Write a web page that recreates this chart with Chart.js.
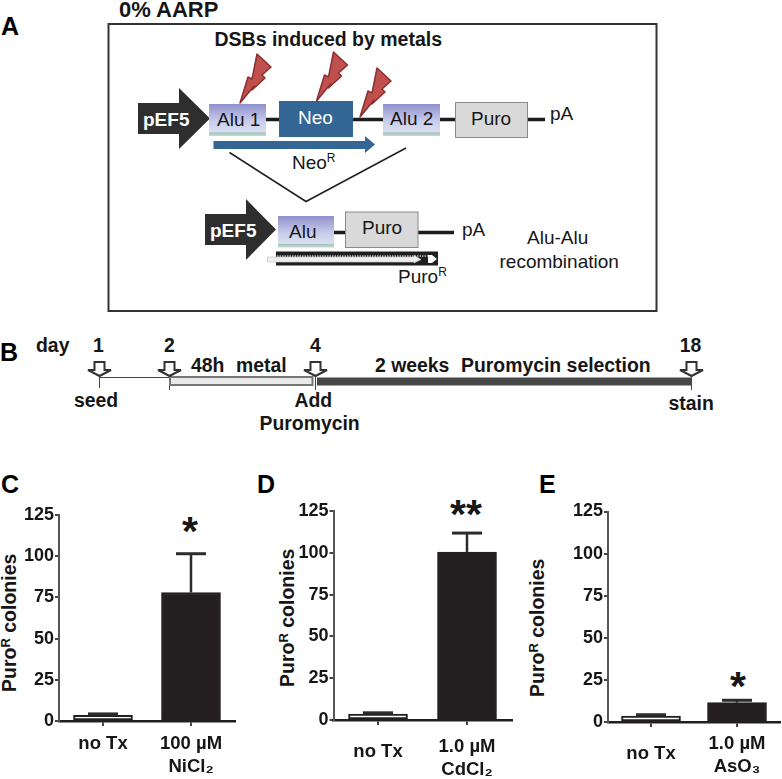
<!DOCTYPE html>
<html>
<head>
<meta charset="utf-8">
<title>Metal induced Alu recombination</title>
<script src="https://cdn.jsdelivr.net/npm/chart.js@4"></script>
<style>
    html, body { margin: 0; padding: 0; background: #fff; }
    #page { position: relative; width: 782px; height: 779px; overflow: hidden; }
    #page svg { position: absolute; left: 0; top: 0; }
    #page canvas { position: absolute; }
    svg text { font-family: "Liberation Sans", Arial, sans-serif; fill: #161616; }
    .b { font-weight: bold; }
    .letter { font-weight: bold; font-size: 25px; fill: #000; }
    .sch { font-size: 19px; }
    .time { font-weight: bold; font-size: 19.4px; }
    .ytitle { font-weight: bold; font-size: 19.5px; }
    .star { font-weight: bold; font-size: 41px; text-anchor: middle; }
    .white { fill: #fff !important; font-weight: bold; font-size: 19px; }
</style>
</head>
<body>
<div id="page">
<svg width="782" height="779" xmlns="http://www.w3.org/2000/svg">
    <defs>
        <linearGradient id="alu" x1="0" y1="0" x2="0" y2="1">
            <stop offset="0" stop-color="#8f90cc"/>
            <stop offset="0.55" stop-color="#c9cdea"/>
            <stop offset="0.87" stop-color="#d8def2"/>
            <stop offset="0.9" stop-color="#a6c4bc"/>
            <stop offset="1" stop-color="#c8dad6"/>
        </linearGradient>
        <polygon id="bolt" points="0,0 8,-26 12,-24 17,-49 31,-36 22,-28 25,-25 12,-13 14,-17" fill="#c0504d" stroke="#8a3030" stroke-width="1.5" stroke-linejoin="round"/>
    </defs>

    <!-- Panel A -->
    <text class="letter" x="1" y="35">A</text>
    <text class="b" x="119" y="17" font-size="22">0% AARP</text>
    <rect x="108.5" y="24" width="548" height="287" fill="none" stroke="#333" stroke-width="2"/>
    <text class="b" x="214.5" y="46" font-size="19.5">DSBs induced by metals</text>

    <g stroke="#1c1c1c" stroke-width="3.5">
        <line x1="262" y1="119.5" x2="545" y2="119.5"/>
        <line x1="330" y1="232.5" x2="454" y2="232.5"/>
    </g>

    <polygon points="138,103 179,103 179,88 210,118.5 179,149 179,134 138,134" fill="#2e2e2e"/>
    <text class="white" x="143" y="126">pEF5</text>
    <rect x="209" y="104" width="57" height="32" fill="url(#alu)"/>
    <text class="sch" x="217" y="126">Alu 1</text>
    <rect x="279" y="101" width="74" height="36" fill="#336695"/>
    <text class="sch" x="298" y="124" style="fill:#fff">Neo</text>
    <rect x="383" y="104" width="57" height="32" fill="url(#alu)"/>
    <text class="sch" x="390" y="125">Alu 2</text>
    <rect x="455.5" y="102.5" width="72" height="35" fill="#d9d9d9" stroke="#8a8a8a"/>
    <text class="sch" x="471" y="125">Puro</text>
    <text class="sch" x="550" y="120">pA</text>

    <use href="#bolt" x="240" y="103"/>
    <use href="#bolt" x="316.5" y="101"/>
    <use href="#bolt" x="360" y="117"/>

    <polygon points="213.5,141 365,141 365,136 375,144.5 365,153 365,149 213.5,149" fill="#336695"/>
    <text class="sch" x="292" y="169" font-size="18">Neo<tspan font-size="12" dy="-7">R</tspan></text>
    <polyline points="229.5,152.5 306,201.5 406,148" fill="none" stroke="#222" stroke-width="1.6"/>

    <polygon points="205,214 246,214 246,199 276,229.5 246,260 246,245 205,245" fill="#2e2e2e"/>
    <text class="white" x="210" y="237">pEF5</text>
    <rect x="278" y="216" width="56" height="31.5" fill="url(#alu)"/>
    <text class="sch" x="289" y="238">Alu</text>
    <rect x="345.5" y="212" width="72.5" height="35.5" fill="#d9d9d9" stroke="#8a8a8a"/>
    <text class="sch" x="362" y="234">Puro</text>
    <text class="sch" x="462" y="236">pA</text>

    <rect x="276" y="251.5" width="162" height="14" fill="#1f1f1f"/>
    <polygon points="267.5,257 414,257 414,255.5 421,259.5 414,263 414,262 267.5,262" fill="#eeeeee" stroke="#c4c4c4" stroke-width="0.7"/>
    <line x1="277" y1="256" x2="432" y2="256" stroke="#fff" stroke-width="1.2" stroke-dasharray="1.5 1"/>
    <polygon points="428,255 432,255 437,259 432,263 428,263" fill="#fff"/>
    <text class="sch" x="398" y="283" font-size="18">Puro<tspan font-size="12" dy="-7">R</tspan></text>
    <text class="sch" x="527" y="244" font-size="18">Alu-Alu</text>
    <text class="sch" x="499.5" y="268" font-size="18">recombination</text>

    <!-- Panel B -->
    <text class="letter" x="0" y="361">B</text>
    <text class="time" x="36" y="352">day</text>
    <text class="time" x="98.5" y="352" text-anchor="middle">1</text>
    <text class="time" x="169.5" y="352" text-anchor="middle">2</text>
    <text class="time" x="315.5" y="352" text-anchor="middle">4</text>
    <text class="time" x="690.5" y="352" text-anchor="middle">18</text>
    <text class="time" x="191" y="372">48h</text>
    <text class="time" x="236" y="372">metal</text>
    <text class="time" x="375" y="372">2 weeks</text>
    <text class="time" x="461" y="372">Puromycin selection</text>
    <text class="time" x="74" y="407">seed</text>
    <text class="time" x="294.5" y="407">Add</text>
    <text class="time" x="259.5" y="430">Puromycin</text>
    <text class="time" x="668.5" y="410">stain</text>

    <g stroke="#444" stroke-width="1">
        <line x1="99.5" y1="377.5" x2="169.5" y2="377.5"/>
        <line x1="99.5" y1="377" x2="99.5" y2="388"/>
        <line x1="169.5" y1="377" x2="169.5" y2="390"/>
        <line x1="315.5" y1="377" x2="315.5" y2="390"/>
        <line x1="691.5" y1="377" x2="691.5" y2="390"/>
    </g>
    <rect x="170" y="377" width="142.5" height="8" fill="#e9e9e9" stroke="#777" stroke-width="2"/>
    <rect x="317" y="377.5" width="374.5" height="8" fill="#474747"/>
    <g fill="#fff" stroke="#333" stroke-width="2">
        <polygon points="94.5,362 104.5,362 104.5,370 111,370 99.5,376 88,370 94.5,370"/>
        <polygon points="164.5,362 174.5,362 174.5,370 181,370 169.5,376 158,370 164.5,370"/>
        <polygon points="310.5,362 320.5,362 320.5,370 327,370 315.5,376 304,370 310.5,370"/>
        <polygon points="686.5,362 696.5,362 696.5,370 703,370 691.5,376 680,370 686.5,370"/>
    </g>

    <!-- Panels C, D, E: letters, axis titles and significance marks -->
    <text class="letter" x="1" y="493">C</text>
    <text class="letter" x="257" y="493">D</text>
    <text class="letter" x="539" y="493">E</text>

    <text class="ytitle" transform="translate(15.5 692) rotate(-90)">Puro<tspan font-size="13" dy="-6">R</tspan><tspan dy="6"> colonies</tspan></text>
    <text class="ytitle" transform="translate(294 687) rotate(-90)">Puro<tspan font-size="13" dy="-6">R</tspan><tspan dy="6"> colonies</tspan></text>
    <text class="ytitle" transform="translate(544 697) rotate(-90)">Puro<tspan font-size="13" dy="-6">R</tspan><tspan dy="6"> colonies</tspan></text>

    <text class="star" x="190" y="545">*</text>
    <text class="star" x="466" y="528">**</text>
    <text class="star" x="738" y="700">*</text>
</svg>
<canvas id="chartC"></canvas>
<canvas id="chartD"></canvas>
<canvas id="chartE"></canvas>
</div>

<script>
// Datos
const yTicks = [0, 25, 50, 75, 100, 125];

const labelsC = ['no Tx', ['100 µM', 'NiCl₂']];
const valuesC = [3.5, 78];
const errorTopC = [4.3, 101.5];

const labelsD = ['no Tx', ['1.0 µM', 'CdCl₂']];
const valuesD = [3.5, 100.5];
const errorTopD = [4.3, 111.8];

const labelsE = ['no Tx', ['1.0 µM', 'AsO₃']];
const valuesE = [3.5, 11.5];
const errorTopE = [4.3, 12.9];

const INK = '#231f20';
const AXIS = '#444444';
const FONT = '"Liberation Sans", Arial, sans-serif';

// Barras de error
const errorBarsPlugin = {
    id: 'errorBars',
    afterDatasetsDraw(chart, args, opts) {
        const { ctx, scales: { x, y } } = chart;
        ctx.save();
        ctx.strokeStyle = '#2b2b2b';
        ctx.lineCap = 'butt';
        opts.tops.forEach((top, i) => {
            const px = x.getPixelForValue(i);
            const yBar = y.getPixelForValue(opts.values[i]);
            const yTop = y.getPixelForValue(top);
            ctx.lineWidth = 2.5;
            ctx.beginPath();
            ctx.moveTo(px, yBar);
            ctx.lineTo(px, yTop);
            ctx.stroke();
            ctx.lineWidth = 3;
            ctx.beginPath();
            ctx.moveTo(px - 15, yTop);
            ctx.lineTo(px + 15, yTop);
            ctx.stroke();
        });
        ctx.restore();
    }
};

function drawPanel(id, labels, values, errorTop, box) {
    const canvas = document.getElementById(id);
    canvas.width = box.width;
    canvas.height = box.height;
    canvas.style.left = box.left + 'px';
    canvas.style.top = box.top + 'px';

    return new Chart(canvas.getContext('2d'), {
        type: 'bar',
        data: {
            labels: labels,
            datasets: [{
                data: values,
                backgroundColor: ['#ffffff', INK],
                borderColor: INK,
                borderWidth: 2,
                borderSkipped: false,
                barThickness: 59
            }]
        },
        options: {
            responsive: false,
            animation: false,
            devicePixelRatio: 1,
            layout: { padding: { top: box.padTop, right: box.padRight, left: 0, bottom: 0 } },
            plugins: {
                legend: { display: false },
                tooltip: { enabled: false },
                errorBars: { values: values, tops: errorTop }
            },
            scales: {
                x: {
                    afterFit: (scale) => { scale.height = box.axisHeight; },
                    grid: { offset: false, drawOnChartArea: false, tickLength: 5, color: AXIS, lineWidth: 2 },
                    border: { color: INK, width: 2.5 },
                    ticks: {
                        color: '#161616',
                        padding: box.xPad,
                        maxRotation: 0,
                        autoSkip: false,
                        // "no Tx" va mas abajo que la etiqueta de dos lineas en D y E
                        font: (ctx) => ({
                            family: FONT,
                            size: 18.5,
                            weight: 'bold',
                            lineHeight: ctx.index === 0 ? box.firstLineHeight : 1.25
                        })
                    }
                },
                y: {
                    min: 0,
                    max: 125,
                    afterFit: (scale) => { scale.width = box.axisWidth; },
                    afterBuildTicks: (scale) => { scale.ticks = yTicks.map(v => ({ value: v })); },
                    grid: { drawOnChartArea: false, tickLength: 4, color: AXIS, lineWidth: 2 },
                    border: { color: '#555555', width: 2 },
                    ticks: {
                        color: '#161616',
                        padding: 1,
                        font: { family: FONT, size: 18, weight: 'bold' }
                    }
                }
            }
        },
        plugins: [errorBarsPlugin]
    });
}

drawPanel('chartC', labelsC, valuesC, errorTopC,
    { left: 0, top: 495, width: 245, height: 284, padTop: 20, padRight: 10, axisWidth: 59, axisHeight: 58, xPad: 6, firstLineHeight: 1.25 });
drawPanel('chartD', labelsD, valuesD, errorTopD,
    { left: 275, top: 495, width: 245, height: 284, padTop: 16, padRight: 8.5, axisWidth: 58.5, axisHeight: 59, xPad: 10, firstLineHeight: 1.8 });
drawPanel('chartE', labelsE, valuesE, errorTopE,
    { left: 550, top: 495, width: 232, height: 284, padTop: 16.5, padRight: 2, axisWidth: 58, axisHeight: 57, xPad: 5, firstLineHeight: 2.4 });
</script>
</body>
</html>
